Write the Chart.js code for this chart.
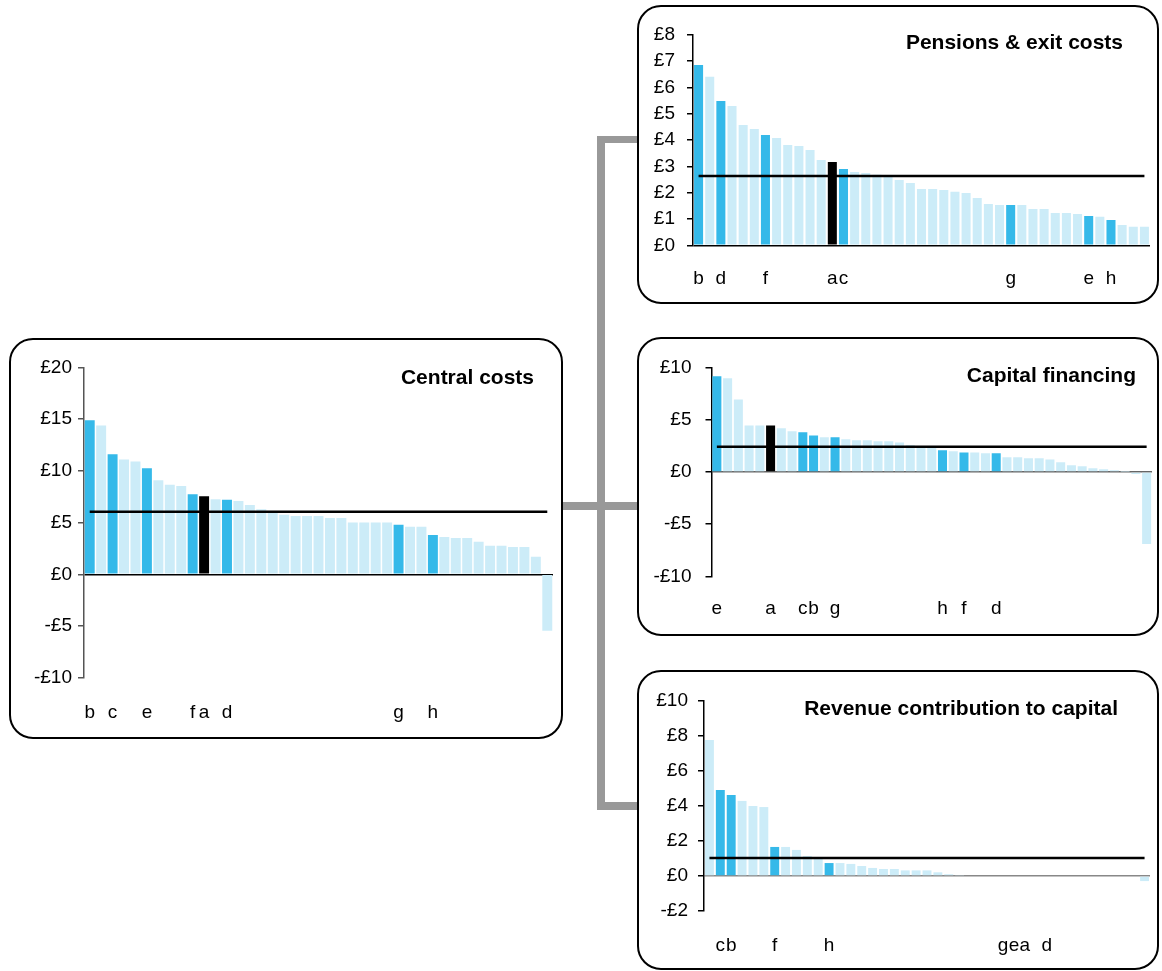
<!DOCTYPE html>
<html>
<head>
<meta charset="utf-8">
<title>Costs per head</title>
<script src="https://cdn.jsdelivr.net/npm/chart.js@4.4.1/dist/chart.umd.min.js"></script>
<style>
    body { margin: 0; background: #fff; font-family: Arial, "Liberation Sans", sans-serif; }
    #page { position: relative; width: 1162px; height: 971px; overflow: hidden; }
    .box { position: absolute; border: 2.5px solid #000; border-radius: 24px; box-sizing: border-box; }
    .wire { position: absolute; background: #999; }
    .title { position: absolute; font-weight: bold; font-size: 21px; white-space: nowrap; transform: translateY(-50%); }
    canvas { position: absolute; }
</style>
</head>
<body>
<div id="page">
    <!-- connectors -->
    <div class="wire" style="left:597px; top:136px; width:7.5px; height:673px;"></div>
    <div class="wire" style="left:597px; top:136px; width:41px; height:7px;"></div>
    <div class="wire" style="left:562px; top:502px; width:76px; height:7.5px;"></div>
    <div class="wire" style="left:597px; top:802px; width:41px; height:7.5px;"></div>

    <div class="box" style="left:9px; top:338px; width:554px; height:401px;"></div>
    <div class="box" style="left:637px; top:5px; width:522px; height:299px;"></div>
    <div class="box" style="left:637px; top:337px; width:522px; height:299px;"></div>
    <div class="box" style="left:637px; top:670px; width:522px; height:300px;"></div>

    <canvas id="centralChart"></canvas>
    <canvas id="pensionsChart"></canvas>
    <canvas id="capitalChart"></canvas>
    <canvas id="revenueChart"></canvas>

    <div class="title" style="right:628px; top:377px;">Central costs</div>
    <div class="title" style="right:39px; top:42px;">Pensions &amp; exit costs</div>
    <div class="title" style="right:26px; top:375px;">Capital financing</div>
    <div class="title" style="right:44px; top:708px;">Revenue contribution to capital</div>
</div>

<script>
// --- дані: 41 орган, відсортовано за спаданням, літери лише біля виділених ---
const centralLabels = [
    'b', '', 'c', '', '', 'e', '', '', '', 'f',
    'a', '', 'd', '', '', '', '', '', '', '',
    '', '', '', '', '', '', '', 'g', '', '',
    'h', '', '', '', '', '', '', '', '', '',
    ''
];
const centralValues = [
    14.9, 14.4, 11.6, 11.1, 10.9, 10.25, 9.1, 8.65, 8.55, 7.75,
    7.55, 7.25, 7.2, 7.1, 6.7, 6.3, 5.95, 5.75, 5.65, 5.65,
    5.65, 5.45, 5.45, 5.0, 5.0, 5.0, 5.0, 4.8, 4.6, 4.6,
    3.8, 3.6, 3.5, 3.5, 3.15, 2.75, 2.75, 2.65, 2.65, 1.7,
    -5.45
];
const centralAverage = 6.06;

const pensionsLabels = [
    'b', '', 'd', '', '', '', 'f', '', '', '',
    '', '', 'a', 'c', '', '', '', '', '', '',
    '', '', '', '', '', '', '', '', 'g', '',
    '', '', '', '', '', 'e', '', 'h', '', '',
    ''
];
const pensionsValues = [
    6.85, 6.4, 5.48, 5.29, 4.57, 4.42, 4.19, 4.08, 3.81, 3.77,
    3.62, 3.24, 3.16, 2.9, 2.78, 2.75, 2.68, 2.62, 2.48, 2.37,
    2.14, 2.14, 2.1, 2.03, 1.99, 1.8, 1.57, 1.53, 1.53, 1.53,
    1.38, 1.38, 1.23, 1.23, 1.19, 1.11, 1.08, 0.96, 0.77, 0.7,
    0.7
];
const pensionsAverage = 2.63;

const capitalLabels = [
    'e', '', '', '', '', 'a', '', '', 'c', 'b',
    '', 'g', '', '', '', '', '', '', '', '',
    '', 'h', '', 'f', '', '', 'd', '', '', '',
    '', '', '', '', '', '', '', '', '', '',
    ''
];
const capitalValues = [
    9.17, 8.98, 6.96, 4.47, 4.47, 4.47, 4.19, 3.9, 3.8, 3.51,
    3.32, 3.32, 3.13, 3.04, 3.04, 2.94, 2.94, 2.84, 2.6, 2.5,
    2.45, 2.08, 1.98, 1.88, 1.88, 1.79, 1.79, 1.41, 1.41, 1.31,
    1.31, 1.21, 0.93, 0.64, 0.54, 0.35, 0.26, 0.16, 0.02, -0.19,
    -6.9
];
const capitalAverage = 2.43;

const revenueLabels = [
    '', 'c', 'b', '', '', '', 'f', '', '', '',
    '', 'h', '', '', '', '', '', '', '', '',
    '', '', '', '', '', '', '', 'g', 'e', 'a',
    '', 'd', '', '', '', '', '', '', '', '',
    ''
];
const revenueValues = [
    7.77, 4.91, 4.63, 4.29, 4.0, 3.94, 1.66, 1.66, 1.49, 1.14,
    1.0, 0.74, 0.74, 0.69, 0.57, 0.46, 0.4, 0.4, 0.32, 0.32,
    0.32, 0.21, 0.1, 0.03, 0, 0, 0, 0, 0, 0,
    0, 0, 0, 0, 0, 0, 0, 0, 0, 0,
    -0.29
];
const revenueAverage = 1.03;

const FONT = 'Arial, "Liberation Sans", sans-serif';
const DARK = '#35b9e9';
const LIGHT = '#ccecf8';
const RIGHT_PAD = 26;   // має бути > ticks.padding осі x, інакше Chart.js стискає область справа

function colourFor(label) {
    if (label === 'a') return '#000000';
    return label ? DARK : LIGHT;
}

function money(v) {
    return v < 0 ? '-£' + Math.abs(v) : '£' + v;
}

// x/y = лівий верхній кут полотна (координати сторінки), area = де має бути область графіка
function makeChart(id, labels, values, average, cfg) {
    const el = document.getElementById(id);
    const a = cfg.area;
    el.width = a.r + RIGHT_PAD - cfg.x;
    el.height = cfg.bottom - cfg.y;
    el.style.left = cfg.x + 'px';
    el.style.top = cfg.y + 'px';

    return new Chart(el, {
        data: {
            labels: labels,
            datasets: [
                {
                    type: 'line',
                    data: labels.map(() => average),
                    borderColor: '#000',
                    borderWidth: 2.5,
                    pointRadius: 0,
                    pointHoverRadius: 0,
                    order: 0
                },
                {
                    type: 'bar',
                    data: values,
                    backgroundColor: labels.map(colourFor),
                    barPercentage: cfg.bar,
                    categoryPercentage: 1,
                    order: 1
                }
            ]
        },
        options: {
            responsive: false,
            animation: false,
            events: [],
            layout: {
                autoPadding: false,
                padding: { top: a.t - cfg.y, right: RIGHT_PAD, left: 0, bottom: 0 }
            },
            plugins: { legend: { display: false }, tooltip: { enabled: false } },
            scales: {
                x: {
                    grid: { display: false, drawTicks: false },
                    border: { display: false },
                    ticks: {
                        autoSkip: false, maxRotation: 0, minRotation: 0,
                        padding: cfg.labelPad, color: '#000',
                        font: { size: 19, family: FONT }
                    },
                    afterFit: s => { s.height = cfg.bottom - a.b; }
                },
                y: {
                    min: cfg.min, max: cfg.max,
                    ticks: {
                        stepSize: cfg.step, padding: cfg.tickPad, color: '#000',
                        font: { size: 19, family: FONT },
                        callback: money
                    },
                    border: { color: cfg.axis, width: 1.5 },
                    grid: {
                        color: ctx => (ctx.tick && ctx.tick.value === 0) ? cfg.zero : 'transparent',
                        tickColor: cfg.axis,
                        tickLength: 6,
                        lineWidth: 1.5
                    },
                    afterFit: s => { s.width = a.l - cfg.x; }
                }
            }
        }
    });
}

document.addEventListener('DOMContentLoaded', function() {
    try {
        Chart.defaults.font.family = FONT;

        makeChart('centralChart', centralLabels, centralValues, centralAverage, {
            x: 12, y: 341, bottom: 736,
            area: { l: 84, r: 553, t: 367.5, b: 677.7 },
            min: -10, max: 20, step: 5, bar: 0.87,
            labelPad: 24, tickPad: 6, axis: '#555', zero: '#000'
        });
        makeChart('pensionsChart', pensionsLabels, pensionsValues, pensionsAverage, {
            x: 640, y: 8, bottom: 301,
            area: { l: 693, r: 1150, t: 34.7, b: 245.3 },
            min: 0, max: 8, step: 1, bar: 0.81,
            labelPad: 22.5, tickPad: 12, axis: '#000', zero: '#000'
        });
        makeChart('capitalChart', capitalLabels, capitalValues, capitalAverage, {
            x: 640, y: 340, bottom: 633,
            area: { l: 711.5, r: 1152, t: 367.7, b: 576.3 },
            min: -10, max: 10, step: 5, bar: 0.84,
            labelPad: 21.5, tickPad: 14, axis: '#000', zero: '#666'
        });
        makeChart('revenueChart', revenueLabels, revenueValues, revenueAverage, {
            x: 640, y: 673, bottom: 967,
            area: { l: 704, r: 1150, t: 701, b: 911 },
            min: -2, max: 10, step: 2, bar: 0.82,
            labelPad: 23, tickPad: 10, axis: '#000', zero: '#888'
        });
    } catch (e) {
        console.error('Chart init failed:', e);
    }
});
</script>
</body>
</html>
